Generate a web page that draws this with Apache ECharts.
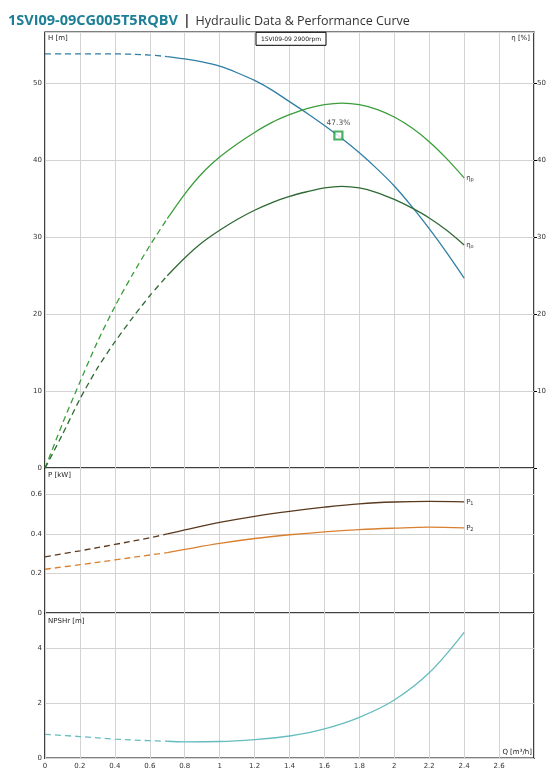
<!DOCTYPE html>
<html><head><meta charset="utf-8">
<script src="https://cdn.jsdelivr.net/npm/echarts@6/dist/echarts.min.js"></script>
<style>html,body{margin:0;padding:0;background:#fff}#c{width:552px;height:775px}</style>
</head><body><div id="c"></div><script>
// ---- data ----
const qLow  = [0, 0.1, 0.2, 0.3, 0.4, 0.5, 0.6, 0.7];
const qHigh = [0.7, 0.8, 0.9, 1.0, 1.1, 1.2, 1.3, 1.4, 1.5, 1.6, 1.7, 1.8, 1.9, 2.0, 2.1, 2.2, 2.3, 2.4];
const headLow  = [53.8, 53.8, 53.8, 53.8, 53.8, 53.75, 53.65, 53.45];
const headHigh = [53.45, 53.15, 52.75, 52.2, 51.35, 50.35, 49.1, 47.6, 46.1, 44.5, 42.8, 40.95, 38.9, 36.65, 34.0, 31.1, 28.0, 24.7];
const etaPLow  = [0, 5.8, 11.2, 16.4, 21.0, 25.1, 28.9, 32.4];
const etaPHigh = [32.4, 35.6, 38.3, 40.4, 42.1, 43.6, 44.9, 45.9, 46.7, 47.2, 47.4, 47.2, 46.6, 45.6, 44.2, 42.4, 40.2, 37.7];
const etaOLow  = [0, 4.4, 9.0, 13.0, 16.4, 19.5, 22.4, 25.0];
const etaOHigh = [25.0, 27.3, 29.3, 30.9, 32.3, 33.5, 34.5, 35.3, 35.9, 36.4, 36.6, 36.4, 35.8, 34.9, 33.8, 32.5, 30.9, 29.0];
const qLow2  = [0, 0.2, 0.4, 0.6, 0.7];
const qHigh2 = [0.7, 0.8, 1.0, 1.2, 1.4, 1.6, 1.8, 2.0, 2.2, 2.4];
const p1Low  = [0.285, 0.315, 0.347, 0.381, 0.400];
const p1High = [0.400, 0.420, 0.458, 0.489, 0.514, 0.535, 0.552, 0.561, 0.564, 0.562];
const p2Low  = [0.222, 0.245, 0.269, 0.294, 0.306];
const p2High = [0.306, 0.322, 0.352, 0.377, 0.396, 0.411, 0.422, 0.429, 0.434, 0.431];
const npshLow  = [0.87, 0.79, 0.70, 0.64, 0.62];
const npshHigh = [0.62, 0.60, 0.61, 0.68, 0.81, 1.07, 1.49, 2.12, 3.11, 4.58];
const bep = [1.68, 43.2];       // duty point on H curve
const bepEff = 47.3;            // efficiency at duty point [%]
const xTicks = [0, 0.2, 0.4, 0.6, 0.8, 1, 1.2, 1.4, 1.6, 1.8, 2, 2.2, 2.4, 2.6];

const zip = (q, v) => q.map((x, i) => [x, v[i]]);

const FONT = 'DejaVu Sans';
const C = {
  head: '#2f7fa6', etaP: '#3a9e3a', etaO: '#2f6a35',
  p1: '#5a3a1e', p2: '#d98030', npsh: '#66bcbf', bep: '#1f9b3b'
};
const gridLine = { show: true, lineStyle: { color: '#d3d3d3', width: 1 } };
const axisLbl = { fontFamily: FONT, fontSize: 7, color: '#333', margin: 3 };

function xAxis(gi, showLbl) {
  return {
    type: 'value', gridIndex: gi, min: 0, max: 2.8, interval: 0.2,
    axisLine: { show: false }, axisTick: { show: false }, splitLine: gridLine,
    axisLabel: Object.assign({}, axisLbl, {
      show: showLbl, margin: 4,
      formatter: v => (xTicks.some(t => Math.abs(t - v) < 1e-6) ? String(+v.toFixed(1)) : '')
    })
  };
}
function yAxis(gi, max, interval, pos, opts) {
  return Object.assign({
    type: 'value', gridIndex: gi, min: 0, max: max, interval: interval, position: pos || 'left',
    axisLine: { show: false }, axisTick: { show: false }, splitLine: gridLine,
    axisLabel: Object.assign({}, axisLbl, { showMaxLabel: false })
  }, opts || {});
}
function line(name, data, color, dashed, xi, yi, endLbl, sm) {
  const s = {
    name: name, type: 'line', data: data, xAxisIndex: xi, yAxisIndex: yi,
    smooth: sm || 0.25, showSymbol: false, symbol: 'none', silent: true,
    lineStyle: { color: color, width: 1.3, type: dashed ? [6, 4] : 'solid' }
  };
  if (endLbl) {
    s.endLabel = {
      show: true, distance: 2, formatter: endLbl,
      rich: {
        m: { fontFamily: FONT, fontSize: 7, color: '#333' },
        s: { fontFamily: FONT, fontSize: 5, color: '#333', verticalAlign: 'bottom', padding: [4, 0, 0, 0] }
      }
    };
  }
  return s;
}

const chart = echarts.init(document.getElementById('c'));
chart.setOption({
  animation: false,
  backgroundColor: '#fff',
  title: {
    left: 3, top: 7,
    text: '{a|1SVI09-09CG005T5RQBV} {b||} {c|Hydraulic Data & Performance Curve}',
    textStyle: {
      fontWeight: 'normal',
      rich: {
        a: { fontFamily: 'Open Sans', fontSize: 14.5, fontWeight: 'bold', color: '#1c7f95' },
        b: { fontFamily: 'Open Sans', fontSize: 14, fontWeight: 'bold', color: '#444' },
        c: { fontFamily: 'Open Sans', fontSize: 12.5, fontWeight: 'normal', color: '#333' }
      }
    }
  },
  grid: [
    { left: 45, right: 18, top: 32.3, height: 436, show: true, borderColor: '#000', borderWidth: 1.5, backgroundColor: 'transparent' },
    { left: 45, right: 18, top: 468.3, height: 145, show: true, borderColor: '#000', borderWidth: 1.5, backgroundColor: 'transparent' },
    { left: 45, right: 18, top: 613.3, height: 145, show: true, borderColor: '#000', borderWidth: 1.5, backgroundColor: 'transparent' }
  ],
  xAxis: [xAxis(0, false), xAxis(1, false), xAxis(2, true)],
  yAxis: [
    yAxis(0, 56.6, 10, 'left'),
    yAxis(0, 56.6, 10, 'right', {
      splitLine: { show: false },
      axisTick: { show: true, length: 3, lineStyle: { color: '#000' } },
      axisLabel: Object.assign({}, axisLbl, { showMaxLabel: false, formatter: v => (v === 0 ? '' : String(v)) })
    }),
    yAxis(1, 0.731, 0.2, 'left'),
    yAxis(2, 5.27, 2, 'left')
  ],
  graphic: [
    { type: 'rect', shape: { x: 256, y: 32.3, width: 70, height: 13 }, style: { fill: '#fff', stroke: '#000', lineWidth: 1 }, z: 10 },
    { type: 'text', x: 291, y: 39, style: { text: '1SVI09-09 2900rpm', fontFamily: FONT, fontSize: 6, fill: '#222', align: 'center', verticalAlign: 'middle' }, z: 11 },
    { type: 'text', x: 48, y: 38, style: { text: 'H [m]', fontFamily: FONT, fontSize: 7, fill: '#222', verticalAlign: 'middle' }, z: 11 },
    { type: 'text', x: 530, y: 38, style: { text: 'η [%]', fontFamily: FONT, fontSize: 7, fill: '#222', align: 'right', verticalAlign: 'middle' }, z: 11 },
    { type: 'text', x: 48, y: 475, style: { text: 'P [kW]', fontFamily: FONT, fontSize: 7, fill: '#222', verticalAlign: 'middle' }, z: 11 },
    { type: 'text', x: 48, y: 621, style: { text: 'NPSHr [m]', fontFamily: FONT, fontSize: 7, fill: '#222', verticalAlign: 'middle' }, z: 11 },
    { type: 'text', x: 532, y: 752, style: { text: 'Q [m³/h]', fontFamily: FONT, fontSize: 7, fill: '#222', align: 'right', verticalAlign: 'middle' }, z: 11 }
  ],
  series: [
    line('H dashed', zip(qLow, headLow), C.head, true, 0, 0),
    line('H', zip(qHigh, headHigh), C.head, false, 0, 0),
    line('ηp dashed', zip(qLow, etaPLow), C.etaP, true, 0, 1),
    line('ηp', zip(qHigh, etaPHigh), C.etaP, false, 0, 1, '{m|η}{s|p}'),
    line('ηo dashed', zip(qLow, etaOLow), C.etaO, true, 0, 1),
    line('ηo', zip(qHigh, etaOHigh), C.etaO, false, 0, 1, '{m|η}{s|o}'),
    line('P1 dashed', zip(qLow2, p1Low), C.p1, true, 1, 2, null, 0.35),
    line('P1', zip(qHigh2, p1High), C.p1, false, 1, 2, '{m|P}{s|1}', 0.35),
    line('P2 dashed', zip(qLow2, p2Low), C.p2, true, 1, 2, null, 0.35),
    line('P2', zip(qHigh2, p2High), C.p2, false, 1, 2, '{m|P}{s|2}', 0.35),
    line('NPSH dashed', zip(qLow2, npshLow), C.npsh, true, 2, 3, null, 0.35),
    line('NPSHr', zip(qHigh2, npshHigh), C.npsh, false, 2, 3, null, 0.35),
    {
      name: 'BEP', type: 'scatter', xAxisIndex: 0, yAxisIndex: 0, data: [bep],
      symbol: 'rect', symbolSize: 8, z: 5,
      itemStyle: { color: '#fff', borderColor: C.bep, borderWidth: 2.2 },
      label: { show: true, position: 'top', distance: 3, formatter: () => bepEff.toFixed(1) + '%', fontFamily: FONT, fontSize: 7.5, color: '#222' }
    }
  ]
});
</script></body></html>
